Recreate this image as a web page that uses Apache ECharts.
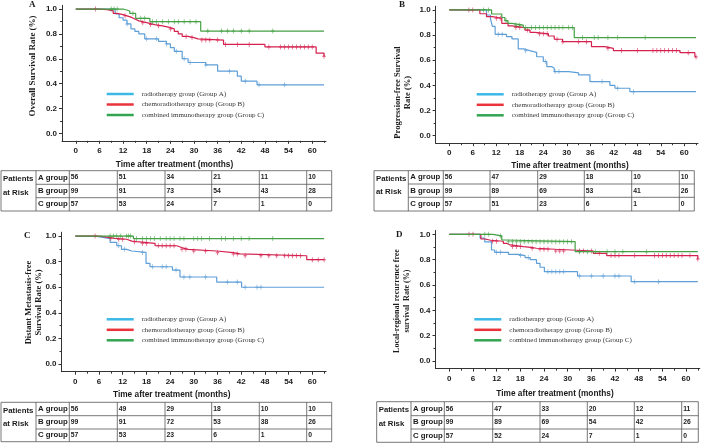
<!DOCTYPE html>
<html>
<head>
<meta charset="utf-8">
<script src="https://cdn.jsdelivr.net/npm/echarts@6/dist/echarts.min.js"></script>
<style>
html, body { margin: 0; padding: 0; background: #fff; }
#chart { width: 709px; height: 444px; }
</style>
</head>
<body>
<div id="chart"></div>
<script>
// ---- data ----
const monthTicks = [0, 6, 12, 18, 24, 30, 36, 42, 48, 54, 60];
const monthMinorTicks = [3, 9, 15, 21, 27, 33, 39, 45, 51, 57, 63];
const rateTicks = [0, 0.2, 0.4, 0.6, 0.8, 1.0];
const rateMinorTicks = [0.1, 0.3, 0.5, 0.7, 0.9];

const groupNames = [
    'radiotherapy group (Group A)',
    'chemoradiotherapy group (Group B)',
    'combined immunotherapy group (Group C)'
];
const tableGroups = ['A group', 'B group', 'C group'];

// A: overall survival
const osA_t = [0, 10, 11, 12, 13, 14, 15, 16, 17.5, 21, 23, 24, 25, 27, 28.5, 33, 36, 41, 42, 46, 63];
const osA_s = [1, 0.96, 0.93, 0.91, 0.88, 0.84, 0.82, 0.80, 0.76, 0.74, 0.72, 0.69, 0.66, 0.60, 0.57, 0.55, 0.50, 0.46, 0.42, 0.39, 0.39];
const osA_c = [13, 18, 20.5, 23, 25.5, 27.5, 29, 33, 39, 43, 46.5, 53];
const osB_t = [0, 6, 8, 9.5, 10.5, 12, 13, 14, 15, 16, 18, 20, 22, 23.5, 25, 26, 27, 28.5, 30, 31, 37.5, 48, 61, 63];
const osB_s = [1, 0.995, 0.985, 0.965, 0.955, 0.945, 0.935, 0.92, 0.905, 0.89, 0.875, 0.865, 0.855, 0.84, 0.82, 0.80, 0.78, 0.77, 0.76, 0.75, 0.715, 0.695, 0.645, 0.62];
const osB_c = [5, 12.5, 17, 19, 21, 24, 28, 29.5, 32, 33, 34, 36, 38, 41, 44, 49, 52, 53, 54, 55, 56, 57, 58, 59, 60, 63];
const osC_t = [0, 12, 13.7, 15.2, 18.8, 31.7, 63];
const osC_s = [1, 0.984, 0.965, 0.925, 0.898, 0.823, 0.823];
const osC_c = [9, 9.7, 10.5, 14.5, 16.5, 17.5, 19.5, 20.5, 22, 23.5, 25, 26, 27.5, 29, 30.5, 33.5, 37, 38.5, 40, 42, 44, 50];
const osRisk = [[56, 51, 34, 21, 11, 10], [99, 91, 73, 54, 43, 28], [57, 53, 24, 7, 1, 0]];

// B: progression-free survival
const pfsA_t = [0, 9.5, 10.5, 11, 11.7, 14.6, 16, 17.6, 19, 20.5, 22.3, 24, 24.9, 26.1, 26.8, 30.5, 33, 35.9, 41, 42.3, 46.1, 63];
const pfsA_s = [1, 0.96, 0.93, 0.87, 0.806, 0.788, 0.77, 0.69, 0.676, 0.663, 0.628, 0.59, 0.55, 0.536, 0.51, 0.5, 0.483, 0.43, 0.40, 0.377, 0.35, 0.35];
const pfsA_c = [12.5, 13.5, 19.5, 24.5, 27, 28, 39, 43, 47];
const pfsB_t = [0, 7.8, 9.5, 11, 13.4, 15, 16, 19.3, 20.6, 21.9, 25.3, 26.8, 28.9, 36.3, 39.7, 41.9, 58.9, 62.7, 63];
const pfsB_s = [1, 0.97, 0.947, 0.934, 0.894, 0.873, 0.86, 0.84, 0.822, 0.81, 0.793, 0.767, 0.748, 0.708, 0.695, 0.677, 0.66, 0.634, 0.625];
const pfsB_c = [5, 6, 12, 13, 17, 18, 20, 23, 24, 25, 27.5, 29, 33, 35, 40.5, 44, 48, 52, 53, 54, 55, 56, 57, 58, 61, 63];
const pfsC_t = [0, 10.8, 13.4, 14.2, 15, 16, 18.9, 31.9, 63];
const pfsC_s = [1, 0.968, 0.94, 0.915, 0.894, 0.88, 0.86, 0.78, 0.78];
const pfsC_c = [8.7, 10, 14.5, 17, 18, 19.5, 21, 22, 23, 24, 25, 26, 27, 28, 29, 30.5, 31.5, 34, 37, 38, 40.5, 43, 50];
const pfsRisk = [[56, 47, 29, 18, 10, 10], [99, 89, 69, 53, 41, 26], [57, 51, 23, 6, 1, 0]];

// C: distant metastasis-free survival
const dmA_t = [0, 5, 7, 8.8, 10.5, 11.7, 13, 14.3, 17.9, 18.9, 24.6, 26.5, 35.8, 42.1, 63];
const dmA_s = [1, 0.99, 0.98, 0.95, 0.924, 0.896, 0.883, 0.872, 0.786, 0.76, 0.734, 0.68, 0.64, 0.60, 0.60];
const dmA_c = [11, 12.5, 17, 19.5, 22, 23, 25.5, 27.5, 29, 33, 38.5, 41, 43, 46, 47];
const dmB_t = [0, 6.2, 7.9, 10, 13, 14.3, 15.5, 20.2, 25.7, 26.9, 28.6, 35.8, 40, 41.7, 58.6, 63];
const dmB_s = [1, 0.992, 0.982, 0.975, 0.96, 0.956, 0.943, 0.924, 0.91, 0.896, 0.883, 0.87, 0.86, 0.846, 0.815, 0.815];
const dmB_c = [5, 9, 11, 12, 15, 17, 18, 21, 22, 23, 24, 25, 27, 28, 30, 33, 36, 40, 41, 43, 47, 49, 51, 53, 54, 55, 56, 57, 60, 61.5, 63];
const dmC_t = [0, 14.7, 63];
const dmC_s = [1, 0.98, 0.98];
const dmC_c = [8.8, 9.7, 10.5, 11.5, 13, 13.5, 14, 15.5, 17, 18, 19, 20, 21.5, 23, 24, 25, 26.5, 27.5, 30, 31, 32, 34, 37, 38, 40, 42, 44, 50];
const dmRisk = [[56, 49, 29, 18, 10, 10], [99, 91, 72, 53, 38, 26], [57, 53, 23, 6, 1, 0]];

// D: local-regional recurrence free survival
const lrA_t = [0, 7.8, 9, 10.7, 11.5, 15, 17.5, 19.2, 20.5, 22.1, 23, 24.1, 32.5, 46.1, 63];
const lrA_s = [1, 0.97, 0.94, 0.876, 0.858, 0.842, 0.832, 0.816, 0.80, 0.771, 0.74, 0.705, 0.671, 0.626, 0.626];
const lrA_c = [12, 13, 18, 20, 25, 26, 27, 28, 29, 33, 36, 39, 42, 43, 47, 53];
const lrB_t = [0, 8, 9, 10.5, 13.7, 14.5, 15.4, 18.8, 20.7, 22.1, 26.8, 36.5, 39.9, 63];
const lrB_s = [1, 0.963, 0.953, 0.945, 0.929, 0.916, 0.903, 0.897, 0.89, 0.882, 0.868, 0.85, 0.832, 0.805];
const lrB_c = [5, 6, 11, 12, 16, 17, 18, 21, 23, 24, 25, 27, 28, 29, 33, 34, 36, 38, 41, 42, 43, 47, 52, 53, 54, 55, 56, 57, 58, 59, 61, 63];
const lrC_t = [0, 11, 13.3, 14, 31.9, 63];
const lrC_s = [1, 0.987, 0.955, 0.942, 0.863, 0.863];
const lrC_c = [9, 10, 13, 15, 16, 17, 18, 19, 20, 21, 22, 23, 24, 25, 26, 27, 28, 29, 30, 31, 33, 35, 37, 40, 42, 44, 50];
const lrRisk = [[56, 47, 33, 20, 12, 11], [99, 89, 69, 54, 42, 26], [57, 52, 24, 7, 1, 0]];

// ---- styling / layout ----
const curveColors = ['#5f9fd8', '#d4214f', '#45a045'];
const legendColors = ['#3cb8e6', '#e8343a', '#33a552'];
const SANS = '"Liberation Sans", Arial, sans-serif';
const SERIF = '"Liberation Serif", "Times New Roman", serif';
const INK = '#1a1a1a';

const panels = [
    {
        letter: 'A', letterPos: [29, 5],
        curves: [[osA_t, osA_s, osA_c], [osB_t, osB_s, osB_c], [osC_t, osC_s, osC_c]], risk: osRisk,
        grid: { left: 62, top: 5.3, width: 264, height: 135.5 },
        yTitle: 'Overall Survival Rate (%)', yTitlePos: [33, 66], yTitleSize: 9,
        xName: [174.5, 164.7], legend: { left: 101.7, top: 85 },
        cols: [1, 36, 69.3, 117.3, 165, 211.7, 259.3, 306.7, 331.7], rows: [170.7, 184.3, 197.7, 211]
    },
    {
        letter: 'B', letterPos: [399, 5],
        curves: [[pfsA_t, pfsA_s, pfsA_c], [pfsB_t, pfsB_s, pfsB_c], [pfsC_t, pfsC_s, pfsC_c]], risk: pfsRisk,
        grid: { left: 435.6, top: 6.2, width: 262.4, height: 137 },
        yTitle: 'Progression-free Survival\nRate (%)', yTitlePos: [403, 92.5], yTitleSize: 8.5,
        xName: [570, 165.7], legend: { left: 471.7, top: 85.3 },
        cols: [374, 408.3, 443.3, 490, 537.7, 584.3, 631.7, 679.3, 694.3], rows: [170.7, 184, 197.3, 211]
    },
    {
        letter: 'C', letterPos: [24, 236],
        curves: [[dmA_t, dmA_s, dmA_c], [dmB_t, dmB_s, dmB_c], [dmC_t, dmC_s, dmC_c]], risk: dmRisk,
        grid: { left: 61.5, top: 232.2, width: 264.6, height: 139.5 },
        yTitle: 'Distant Metastasis-free\nSurvival Rate (%)', yTitlePos: [33.5, 302.5], yTitleSize: 8.5,
        xName: [171.7, 395], legend: { left: 101.7, top: 310.3 },
        cols: [1, 36, 69.3, 117.3, 165, 211.7, 259.3, 306.7, 331.7], rows: [402.3, 415.7, 429, 441.7]
    },
    {
        letter: 'D', letterPos: [396, 235],
        curves: [[lrA_t, lrA_s, lrA_c], [lrB_t, lrB_s, lrB_c], [lrC_t, lrC_s, lrC_c]], risk: lrRisk,
        grid: { left: 435.5, top: 230.5, width: 264.3, height: 138.1 },
        yTitle: 'Local-regional recurrence free\nsurvival  Rate (%)', yTitlePos: [402, 301], yTitleSize: 8,
        xName: [555, 394], legend: { left: 469.3, top: 310.3 },
        cols: [376.7, 411, 444.3, 492.7, 540, 587.3, 634.3, 681.7, 698.3], rows: [401.7, 415.7, 429, 442.3]
    }
];

// value of a step curve at time t
const survAt = (ts, ss, t) => {
    let v = ss[0];
    for (let i = 0; i < ts.length; i++) if (ts[i] <= t) v = ss[i];
    return v;
};

const axisLineStyle = { color: '#333', width: 1 };
const labelStyle = { color: INK, fontFamily: SANS, fontWeight: 'bold', fontSize: 8 };

const grids = [], xAxes = [], yAxes = [], series = [], legends = [], graphics = [];

panels.forEach((p, i) => {
    grids.push(Object.assign({ containLabel: false }, p.grid));
    // main axes
    xAxes.push({
        type: 'value', gridIndex: i, position: 'bottom', min: -3.5, max: 63.5,
        axisLine: { onZero: false, lineStyle: axisLineStyle },
        axisTick: { customValues: monthTicks, length: 3, lineStyle: axisLineStyle },
        axisLabel: Object.assign({ customValues: monthTicks, margin: 6 }, labelStyle),
        splitLine: { show: false }
    });
    // minor ticks
    xAxes.push({
        type: 'value', gridIndex: i, position: 'bottom', min: -3.5, max: 63.5,
        axisLine: { show: false, onZero: false },
        axisTick: { customValues: monthMinorTicks, length: 2, lineStyle: axisLineStyle },
        axisLabel: { show: false },
        splitLine: { show: false }
    });
    yAxes.push({
        type: 'value', gridIndex: i, position: 'left', min: -0.06, max: 1.03,
        axisLine: { show: true, onZero: false, lineStyle: axisLineStyle },
        axisTick: { show: true, customValues: rateTicks, length: 3, lineStyle: axisLineStyle },
        axisLabel: Object.assign({ show: true, customValues: rateTicks, margin: 5, formatter: v => v.toFixed(1) }, labelStyle),
        splitLine: { show: false }
    });
    yAxes.push({
        type: 'value', gridIndex: i, position: 'left', min: -0.06, max: 1.03,
        axisLine: { show: false, onZero: false },
        axisTick: { show: true, customValues: rateMinorTicks, length: 2, lineStyle: axisLineStyle },
        axisLabel: { show: false },
        splitLine: { show: false }
    });

    p.curves.forEach(([ts, ss, cens], g) => {
        series.push({
            name: groupNames[g], type: 'line', step: 'end',
            xAxisIndex: i * 2, yAxisIndex: i * 2,
            showSymbol: false, symbol: 'none', silent: true,
            lineStyle: { color: curveColors[g], width: 1.2 },
            itemStyle: { color: curveColors[g] },
            data: ts.map((t, k) => [t, ss[k]]),
            z: 2 + g
        });
        series.push({
            name: groupNames[g] + ' censored', type: 'scatter',
            xAxisIndex: i * 2, yAxisIndex: i * 2, silent: true,
            symbol: 'path://M4,0H6V4H10V6H6V10H4V6H0V4H4Z', symbolSize: [3.5, 5],
            itemStyle: { color: curveColors[g] },
            data: cens.map(t => [t, survAt(ts, ss, t)]),
            z: 2 + g
        });
    });

    legends.push({
        left: p.legend.left, top: p.legend.top, orient: 'vertical',
        icon: 'rect', itemWidth: 27, itemHeight: 2.5, itemGap: 2.5,
        selectedMode: false,
        textStyle: { fontFamily: SERIF, fontSize: 7, color: '#333', lineHeight: 8, padding: [0, 0, 0, 3] },
        data: groupNames.map((n, g) => ({ name: n, itemStyle: { color: legendColors[g] } }))
    });

    // panel letter
    graphics.push({
        type: 'text', x: p.letterPos[0], y: p.letterPos[1],
        style: { text: p.letter, font: 'bold 9px ' + SERIF, fill: INK, align: 'left', verticalAlign: 'middle' }
    });
    // y title
    graphics.push({
        type: 'text', x: p.yTitlePos[0], y: p.yTitlePos[1], rotation: Math.PI / 2,
        style: {
            text: p.yTitle, font: 'bold ' + p.yTitleSize + 'px ' + SERIF, fill: INK,
            align: 'center', verticalAlign: 'middle', lineHeight: 10
        }
    });
    // x title
    graphics.push({
        type: 'text', x: p.xName[0], y: p.xName[1],
        style: { text: 'Time after treatment (months)', font: 'bold 8.3px ' + SANS, fill: INK, align: 'center', verticalAlign: 'middle' }
    });

    // patients-at-risk table
    const c = p.cols, r = p.rows;
    const lineSt = { stroke: '#555', lineWidth: 0.8 };
    graphics.push({
        type: 'rect', shape: { x: c[0], y: r[0], width: c[c.length - 1] - c[0], height: r[3] - r[0] },
        style: Object.assign({ fill: 'none' }, lineSt)
    });
    for (let k = 1; k < c.length - 1; k++) {
        graphics.push({ type: 'line', shape: { x1: c[k], y1: r[0], x2: c[k], y2: r[3] }, style: lineSt });
    }
    for (let k = 1; k < 3; k++) {
        graphics.push({ type: 'line', shape: { x1: c[1], y1: r[k], x2: c[c.length - 1], y2: r[k] }, style: lineSt });
    }
    const rowMid = k => (r[k] + r[k + 1]) / 2;
    graphics.push({
        type: 'text', x: c[0] + 2, y: rowMid(0) + 1.5,
        style: { text: 'Patients', font: 'bold 7.8px ' + SANS, fill: INK, verticalAlign: 'middle' }
    });
    graphics.push({
        type: 'text', x: c[0] + 2, y: rowMid(1) + 1.5,
        style: { text: 'at Risk', font: 'bold 7.8px ' + SANS, fill: INK, verticalAlign: 'middle' }
    });
    tableGroups.forEach((label, g) => {
        graphics.push({
            type: 'text', x: c[1] + 2, y: rowMid(g),
            style: { text: label, font: 'bold 7.8px ' + SANS, fill: INK, verticalAlign: 'middle' }
        });
        p.risk[g].forEach((n, k) => {
            graphics.push({
                type: 'text', x: c[2 + k] + 1.5, y: rowMid(g),
                style: { text: String(n), font: 'bold 6.8px ' + SANS, fill: '#222', verticalAlign: 'middle' }
            });
        });
    });
});

const chart = echarts.init(document.getElementById('chart'), null, { renderer: 'canvas' });
chart.setOption({
    animation: false,
    backgroundColor: '#fff',
    grid: grids,
    xAxis: xAxes,
    yAxis: yAxes,
    legend: legends,
    series: series,
    graphic: { elements: graphics }
});
</script>
</body>
</html>
